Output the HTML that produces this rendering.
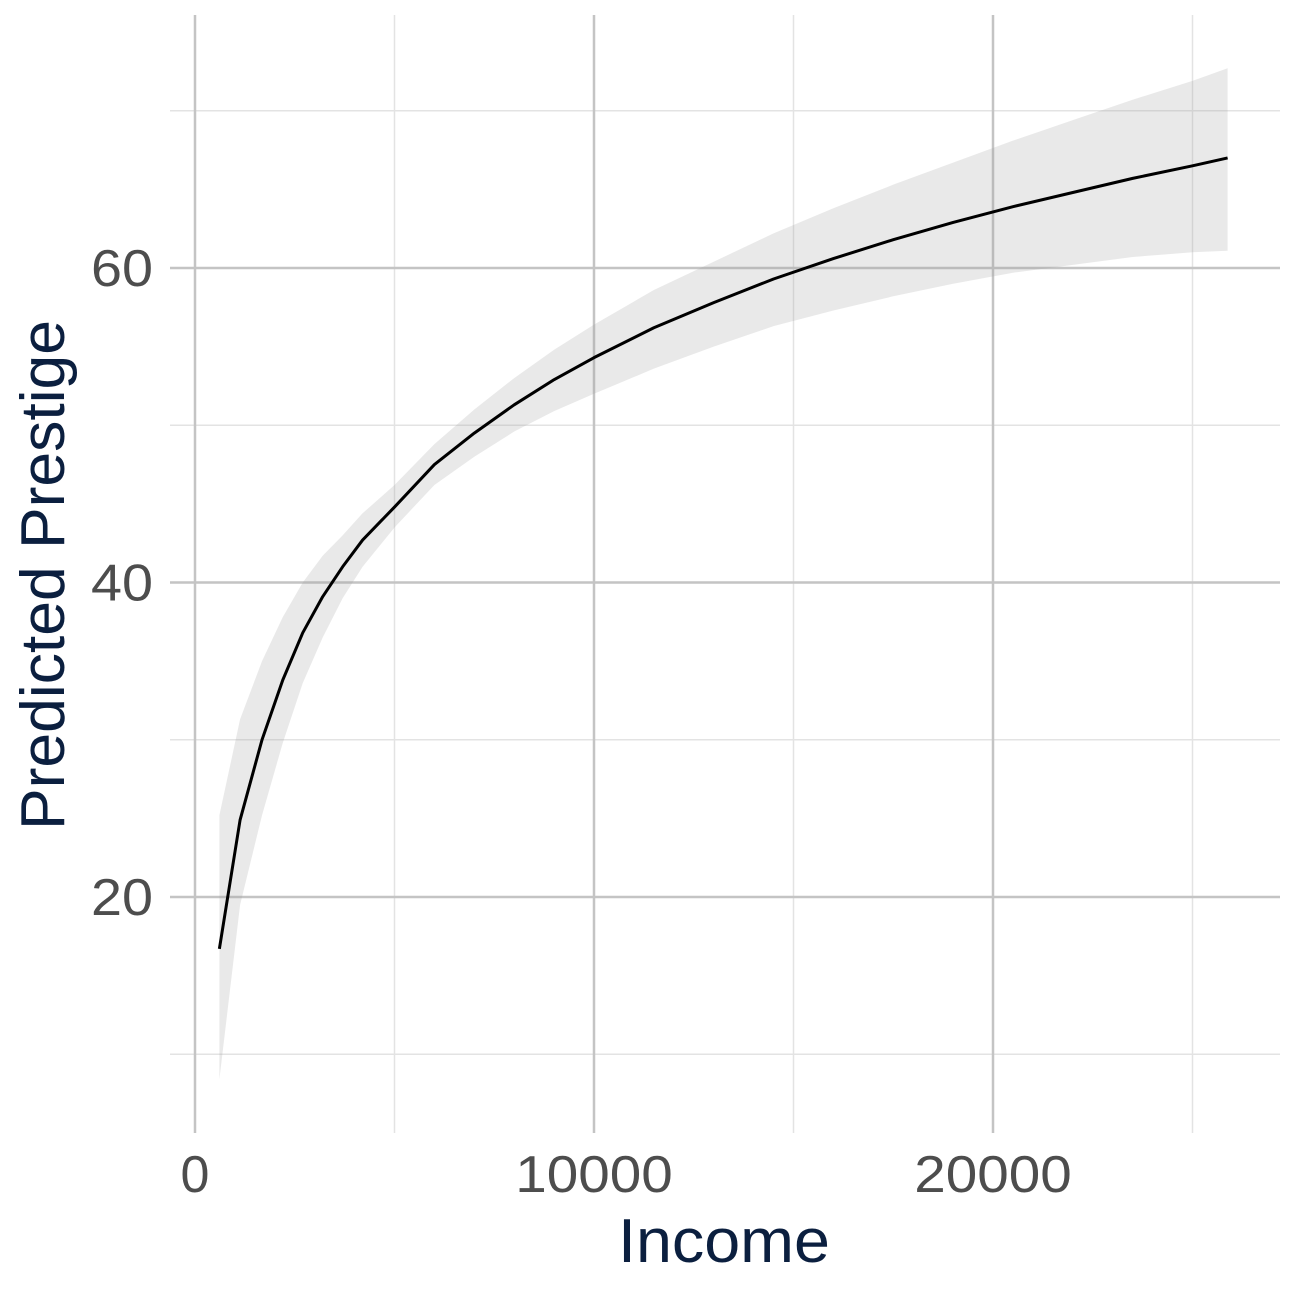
<!DOCTYPE html>
<html><head><meta charset="utf-8"><style>
html,body{margin:0;padding:0;background:#fff;}
svg{display:block;font-family:"Liberation Sans","DejaVu Sans",sans-serif;}
</style></head><body>
<svg id="chart" width="1296" height="1296" viewBox="0 0 1296 1296"></svg>
<script>
const incomes = [611, 1130, 1680, 2200, 2700, 3200, 3700, 4200, 5000, 6000, 7000, 8000, 9000, 10000, 11500, 13000, 14500, 16000, 17500, 19000, 20500, 22000, 23500, 25000, 25880];
const fitValues = [16.7, 24.9, 30.0, 33.8, 36.8, 39.1, 41.0, 42.7, 44.8, 47.5, 49.5, 51.3, 52.9, 54.3, 56.2, 57.8, 59.3, 60.6, 61.8, 62.9, 63.9, 64.8, 65.7, 66.5, 67.0];
const upperValues = [25.2, 31.3, 35.0, 37.8, 40.0, 41.7, 43.0, 44.4, 46.2, 48.8, 51.0, 53.0, 54.8, 56.4, 58.6, 60.4, 62.2, 63.8, 65.3, 66.7, 68.1, 69.4, 70.7, 71.9, 72.7];
const lowerValues = [8.4, 19.5, 25.2, 29.8, 33.6, 36.5, 39.0, 41.0, 43.5, 46.2, 48.0, 49.6, 50.9, 52.0, 53.6, 55.0, 56.3, 57.3, 58.2, 59.0, 59.7, 60.2, 60.7, 61.0, 61.1];
const xTicks = [0, 10000, 20000];
const xMinor = [5000, 15000, 25000];
const yTicks = [20, 40, 60];
const yMinor = [10, 30, 50, 70];

const NS = "http://www.w3.org/2000/svg";
const svg = document.getElementById("chart");
const X0 = 170, X1 = 1280, Y0 = 15, Y1 = 1133;
function sx(v){ return 195 + v * (993 - 195) / 20000; }
function sy(v){ return 897 - (v - 20) * (897 - 268) / 40; }
function mk(tag, attrs){ const e = document.createElementNS(NS, tag); for (const k in attrs) e.setAttribute(k, attrs[k]); svg.appendChild(e); return e; }

yMinor.forEach(v => { const l = mk("line", {x1:X0, x2:X1, y1:sy(v), y2:sy(v), stroke:"#e3e3e3", "stroke-width":1.5});

 });
xMinor.forEach(v => { const l = mk("line", {x1:sx(v), x2:sx(v), y1:Y0, y2:Y1, stroke:"#e3e3e3", "stroke-width":1.5});

 });
yTicks.forEach(v => { const l = mk("line", {x1:X0, x2:X1, y1:sy(v), y2:sy(v), stroke:"#c4c4c4", "stroke-width":2.5});

 });
xTicks.forEach(v => { const l = mk("line", {x1:sx(v), x2:sx(v), y1:Y0, y2:Y1, stroke:"#c4c4c4", "stroke-width":2.5});

 });

let d = "";
incomes.forEach((x,i) => { d += (i ? "L" : "M") + sx(x) + "," + sy(upperValues[i]); });
for (let i = incomes.length - 1; i >= 0; i--) d += "L" + sx(incomes[i]) + "," + sy(lowerValues[i]);
const band = mk("path", {d: d + "Z", fill:"#999", "fill-opacity":0.22});



let ld = "";
incomes.forEach((x,i) => { ld += (i ? "L" : "M") + sx(x) + "," + sy(fitValues[i]); });
const line = mk("path", {d: ld, fill:"none", stroke:"#000", "stroke-width":3, "stroke-linejoin":"round"});



yTicks.forEach(v => { const t = mk("text", {x:153, y:sy(v)+18, "text-anchor":"end", "font-size":52, fill:"#4d4d4d", textLength:62, lengthAdjust:"spacingAndGlyphs"}); t.textContent = v;

 });
xTicks.forEach(v => { const t = mk("text", {x:sx(v), y:1192, "text-anchor":"middle", "font-size":52, fill:"#4d4d4d"}); t.textContent = v;
if (v) { t.setAttribute("textLength", String(v).length * 31.5); t.setAttribute("lengthAdjust", "spacingAndGlyphs"); }

 });

const xt = mk("text", {x:724, y:1262, "text-anchor":"middle", "font-size":62, fill:"#0b1f3f", textLength:212, lengthAdjust:"spacingAndGlyphs"}); xt.textContent = "Income";


const yt = mk("text", {x:0, y:0, transform:"translate(64,575) rotate(-90)", "text-anchor":"middle", "font-size":62, fill:"#0b1f3f", textLength:510, lengthAdjust:"spacingAndGlyphs"}); yt.textContent = "Predicted Prestige";


</script>
</body></html>
